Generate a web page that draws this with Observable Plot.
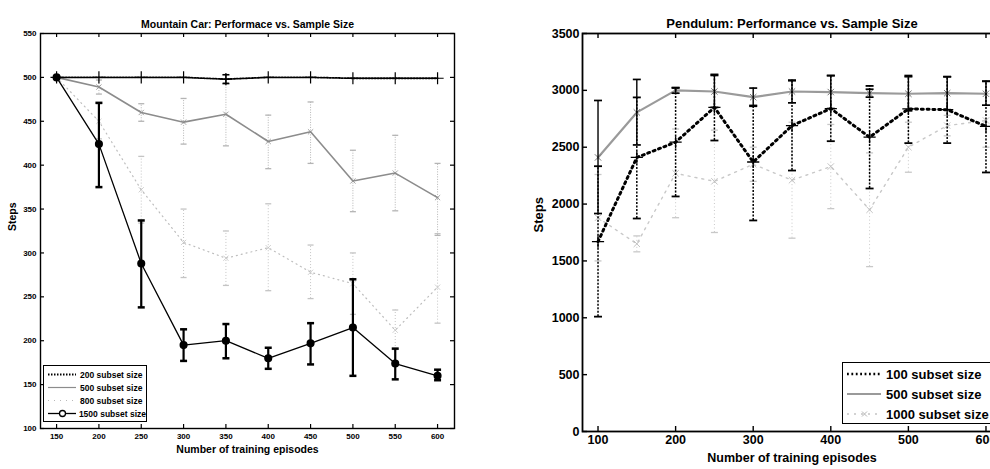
<!DOCTYPE html>
<html><head><meta charset="utf-8">
<script src="https://cdn.jsdelivr.net/npm/d3@7"></script>
<script src="https://cdn.jsdelivr.net/npm/@observablehq/plot@0.6"></script>
<style>
html,body{margin:0;padding:0;background:#fff;overflow:hidden}
#wrap{position:relative;width:990px;height:469px;overflow:hidden;background:#fff;font-family:"Liberation Sans",Arial,sans-serif}
.panel{position:absolute;top:0}
.panel svg{max-width:none !important}
.legend{position:absolute;background:#fff;border:1.3px solid #000;box-sizing:border-box;font-weight:bold;color:#000}
.legend .row{display:flex;align-items:center;white-space:nowrap}
.legend svg{display:block}
</style></head>
<body>
<div id="wrap">
  <div id="mc" class="panel" style="left:0;width:470px;height:469px"></div>
  <div id="pd" class="panel" style="left:500px;width:520px;height:469px"></div>
  <div id="mcLegend" class="legend" style="left:43px;top:365px;width:104px;height:57px;font-size:8.5px;padding:2px 0 0 3px"></div>
  <div id="pdLegend" class="legend" style="left:842px;top:362px;width:170px;height:62px;font-size:13px;padding:1px 0 0 3px"></div>
</div>
<script>
// ---------- Mountain Car data ----------
const mcTitle = "Mountain Car: Performace vs. Sample Size";
const mcXLabel = "Number of training episodes";
const mcYLabel = "Steps";
const mcEpisodes = [150, 200, 250, 300, 350, 400, 450, 500, 550, 600];
const mcXTicks = [150, 200, 250, 300, 350, 400, 450, 500, 550, 600];
const mcYTicks = [100, 150, 200, 250, 300, 350, 400, 450, 500, 550];
const mcSeriesNames = ["200 subset size", "500 subset size", "800 subset size", "1500 subset size"];
const mc200 = [500, 500, 500, 500, 498, 500, 500, 499, 499, 499];
const mc200Low = [null, null, null, null, 493, null, null, null, null, null];
const mc200High = [null, null, null, null, 503, null, null, null, null, null];
const mc500 = [500, 489, 460, 449, 458, 427, 438, 382, 391, 363];
const mc500Low = [null, 481, 450, 424, 422, 396, 402, 347, 348, 320];
const mc500High = [null, 497, 470, 476, 494, 457, 472, 417, 434, 402];
const mc800 = [500, 450, 372, 312, 294, 306, 278, 265, 212, 261];
const mc800Low = [null, 430, 334, 272, 263, 257, 248, 230, 190, 220];
const mc800High = [null, 470, 410, 350, 325, 356, 309, 300, 235, 322];
const mc1500 = [500, 424, 288, 195, 200, 180, 197, 215, 174, 160];
const mc1500Low = [null, 375, 238, 177, 180, 168, 173, 160, 156, 155];
const mc1500High = [null, 471, 337, 213, 219, 192, 220, 270, 191, 167];

// ---------- Pendulum data ----------
const pdTitle = "Pendulum: Performance vs. Sample Size";
const pdXLabel = "Number of training episodes";
const pdYLabel = "Steps";
const pdEpisodes = [100, 150, 200, 250, 300, 350, 400, 450, 500, 550, 600];
const pdXTicks = [100, 200, 300, 400, 500, 600];
const pdYTicks = [0, 500, 1000, 1500, 2000, 2500, 3000, 3500];
const pdSeriesNames = ["100 subset size", "500 subset size", "1000 subset size"];
const pd100 = [1670, 2410, 2544, 2850, 2370, 2690, 2840, 2588, 2837, 2830, 2683];
const pd100Low = [1010, 1873, 2067, 2559, 1856, 2295, 2553, 2137, 2536, 2536, 2278];
const pd100High = [2333, 2938, 3021, 3140, 2867, 3085, 3130, 3039, 3130, 3120, 3080];
const pd500 = [2410, 2806, 3000, 2990, 2940, 2990, 2985, 2975, 2970, 2975, 2970];
const pd500Low = [1917, 2520, 2975, 2850, 2860, 2890, 2840, 2940, 2820, 2830, 2870];
const pd500High = [2911, 3096, 3025, 3131, 3020, 3090, 3130, 3010, 3120, 3120, 3080];
const pd1000 = [1880, 1650, 2270, 2200, 2350, 2210, 2330, 1950, 2500, 2690, 2735];
const pd1000Low = [1500, 1580, 1880, 1750, 2200, 1700, 1960, 1450, 2280, 2600, 2500];
const pd1000High = [2260, 1720, 2660, 2650, 2500, 2720, 2700, 2450, 2720, 2780, 2970];

// ---------- helpers ----------
const plain = d => String(d);
function series(xs, ys, lo, hi) {
  return xs.map((x, i) => ({x, y: ys[i], lo: lo[i], hi: hi[i]}));
}
const capSymbol = {
  draw(ctx, size) {
    const w = Math.sqrt(size / Math.PI);
    ctx.moveTo(-w, 0); ctx.lineTo(w, 0);
  }
};
function errorBars(data, stroke, strokeWidth, dash, r) {
  const d = data.filter(p => p.lo != null && p.hi != null);
  return [
    Plot.ruleX(d, {x: "x", y1: "lo", y2: "hi", stroke, strokeWidth, strokeDasharray: dash}),
    Plot.dot(d, {x: "x", y: "lo", symbol: capSymbol, r, stroke, fill: "none", strokeWidth: strokeWidth + 0.3}),
    Plot.dot(d, {x: "x", y: "hi", symbol: capSymbol, r, stroke, fill: "none", strokeWidth: strokeWidth + 0.3})
  ];
}
function boxTicks(xTicks, yTicks, innerW, innerH, len, sw) {
  return [
    Plot.tickX(xTicks, {x: d => d, insetTop: innerH - len, stroke: "black", strokeWidth: sw}),
    Plot.tickX(xTicks, {x: d => d, insetBottom: innerH - len, stroke: "black", strokeWidth: sw}),
    Plot.tickY(yTicks, {y: d => d, insetRight: innerW - len, stroke: "black", strokeWidth: sw}),
    Plot.tickY(yTicks, {y: d => d, insetLeft: innerW - len, stroke: "black", strokeWidth: sw})
  ];
}

// ---------- Mountain Car chart ----------
{
  const W = 470, H = 469, mL = 40, mR = 16, mT = 33, mB = 41;
  const s200 = series(mcEpisodes, mc200, mc200Low, mc200High);
  const s500 = series(mcEpisodes, mc500, mc500Low, mc500High);
  const s800 = series(mcEpisodes, mc800, mc800Low, mc800High);
  const s1500 = series(mcEpisodes, mc1500, mc1500Low, mc1500High);
  const chart = Plot.plot({
    width: W, height: H, marginLeft: mL, marginRight: mR, marginTop: mT, marginBottom: mB,
    x: {domain: [131, 620], label: null},
    y: {domain: [100, 550], label: null},
    style: {fontFamily: "Liberation Sans, Arial, sans-serif", fontSize: "8px", fontWeight: "bold", background: "white", color: "black", overflow: "visible", maxWidth: "none"},
    marks: [
      ...errorBars(s800, "#c4c4c4", 1, "1,2", 3),
      Plot.line(s800, {x: "x", y: "y", stroke: "#bdbdbd", strokeWidth: 1.2, strokeDasharray: "1,4"}),
      Plot.dot(s800, {x: "x", y: "y", symbol: "times", r: 2.5, stroke: "#c4c4c4", strokeWidth: 0.8}),
      ...errorBars(s500, "#b4b4b4", 1, "1,1.5", 3),
      Plot.line(s500, {x: "x", y: "y", stroke: "#8c8c8c", strokeWidth: 1.6}),
      Plot.dot(s500, {x: "x", y: "y", symbol: "times", r: 2.5, stroke: "#8c8c8c", strokeWidth: 0.8}),
      ...errorBars(s200, "black", 1.3, null, 3.5),
      Plot.line(s200, {x: "x", y: "y", stroke: "black", strokeWidth: 1.8, strokeDasharray: "1.5,1.5"}),
      Plot.dot(s200, {x: "x", y: "y", symbol: "plus", r: 4, stroke: "black", strokeWidth: 1.2}),
      ...errorBars(s1500, "black", 2.2, null, 3.5),
      Plot.line(s1500, {x: "x", y: "y", stroke: "black", strokeWidth: 1.3}),
      Plot.dot(s1500, {x: "x", y: "y", r: 3.3, fill: "black", stroke: "black"}),
      ...boxTicks(mcXTicks, mcYTicks, W - mL - mR, H - mT - mB, 4, 1.2),
      Plot.frame({stroke: "black", strokeWidth: 1.4}),
      Plot.axisX({ticks: mcXTicks, tickSize: 0, tickPadding: 5, label: null, tickFormat: plain}),
      Plot.axisY({ticks: mcYTicks, tickSize: 0, tickPadding: 4, label: null, tickFormat: plain}),
      Plot.text([mcTitle], {frameAnchor: "top", dy: -13, fontSize: 10.5, fontWeight: "bold"}),
      Plot.text([mcXLabel], {frameAnchor: "bottom", dy: 24, fontSize: 10.5, fontWeight: "bold"}),
      Plot.text([mcYLabel], {frameAnchor: "left", dx: -28, rotate: -90, fontSize: 10.5, fontWeight: "bold"})
    ]
  });
  document.getElementById("mc").appendChild(chart);
}

// ---------- Pendulum chart ----------
{
  const W = 520, H = 469, mL = 82, mR = 19, mT = 33, mB = 38;
  const s100 = series(pdEpisodes, pd100, pd100Low, pd100High);
  const s500 = series(pdEpisodes, pd500, pd500Low, pd500High);
  const s1000 = series(pdEpisodes, pd1000, pd1000Low, pd1000High);
  const chart = Plot.plot({
    width: W, height: H, marginLeft: mL, marginRight: mR, marginTop: mT, marginBottom: mB,
    x: {domain: [80, 620], label: null},
    y: {domain: [0, 3500], label: null},
    style: {fontFamily: "Liberation Sans, Arial, sans-serif", fontSize: "12.5px", fontWeight: "bold", background: "white", color: "black", overflow: "visible", maxWidth: "none"},
    marks: [
      ...errorBars(s1000, "#c8c8c8", 1, "1,2.5", 3.5),
      Plot.line(s1000, {x: "x", y: "y", stroke: "#c8c8c8", strokeWidth: 1.4, strokeDasharray: "2,5"}),
      Plot.dot(s1000, {x: "x", y: "y", symbol: "times", r: 3, stroke: "#bcbcbc", strokeWidth: 0.9}),
      Plot.line(s500, {x: "x", y: "y", stroke: "#9a9a9a", strokeWidth: 2.2}),
      Plot.dot(s500, {x: "x", y: "y", symbol: "times", r: 3, stroke: "#777", strokeWidth: 1}),
      ...errorBars(s500, "black", 1.4, null, 4),
      ...errorBars(s100, "black", 1.5, "2,1.5", 4),
      Plot.line(s100, {x: "x", y: "y", stroke: "black", strokeWidth: 3, strokeDasharray: "2,3.8"}),
      Plot.dot(s100, {x: "x", y: "y", symbol: "plus", r: 4, stroke: "black", strokeWidth: 1.3}),
      ...boxTicks(pdXTicks, pdYTicks, W - mL - mR, H - mT - mB, 5, 1.4),
      Plot.frame({stroke: "black", strokeWidth: 1.8}),
      Plot.axisX({ticks: pdXTicks, tickSize: 0, tickPadding: 4, label: null, tickFormat: plain}),
      Plot.axisY({ticks: pdYTicks, tickSize: 0, tickPadding: 3, label: null, tickFormat: plain}),
      Plot.text([pdTitle], {frameAnchor: "top", dy: -15, fontSize: 13, fontWeight: "bold"}),
      Plot.text([pdXLabel], {frameAnchor: "bottom", dy: 30, fontSize: 12.5, fontWeight: "bold"}),
      Plot.text([pdYLabel], {frameAnchor: "left", dx: -44, rotate: -90, fontSize: 13, fontWeight: "bold"})
    ]
  });
  document.getElementById("pd").appendChild(chart);
}

// ---------- legends ----------
function sample(w, h, stroke, sw, dash, marker, mstroke) {
  const ns = "http://www.w3.org/2000/svg";
  const svg = document.createElementNS(ns, "svg");
  svg.setAttribute("width", w); svg.setAttribute("height", h);
  const line = document.createElementNS(ns, "line");
  line.setAttribute("x1", 1); line.setAttribute("x2", w - 2);
  line.setAttribute("y1", h / 2); line.setAttribute("y2", h / 2);
  line.setAttribute("stroke", stroke); line.setAttribute("stroke-width", sw);
  if (dash) line.setAttribute("stroke-dasharray", dash);
  svg.appendChild(line);
  if (marker) {
    const cx = w / 2, cy = h / 2;
    if (marker === "circle") {
      const c = document.createElementNS(ns, "circle");
      c.setAttribute("cx", cx); c.setAttribute("cy", cy); c.setAttribute("r", 3);
      c.setAttribute("fill", "white"); c.setAttribute("stroke", mstroke); c.setAttribute("stroke-width", 1.3);
      svg.appendChild(c);
    } else if (marker === "times") {
      const path = document.createElementNS(ns, "path");
      path.setAttribute("d", `M${cx-2.5},${cy-2.5}L${cx+2.5},${cy+2.5}M${cx-2.5},${cy+2.5}L${cx+2.5},${cy-2.5}`);
      path.setAttribute("stroke", mstroke); path.setAttribute("fill", "none");
      svg.appendChild(path);
    }
  }
  return svg;
}
function buildLegend(id, names, styles, rowH, sw, gap) {
  const el = document.getElementById(id);
  names.forEach((name, i) => {
    const row = document.createElement("div");
    row.className = "row"; row.style.height = rowH + "px";
    const s = styles[i];
    row.appendChild(sample(sw, rowH, s.stroke, s.width, s.dash, s.marker, s.mstroke));
    const t = document.createElement("span");
    t.textContent = name; t.style.marginLeft = gap + "px";
    row.appendChild(t);
    el.appendChild(row);
  });
}
buildLegend("mcLegend", mcSeriesNames, [
  {stroke: "black", width: 1.8, dash: "1.5,1.5"},
  {stroke: "#8c8c8c", width: 1.2},
  {stroke: "#b8b8b8", width: 1.2, dash: "1,5"},
  {stroke: "black", width: 1.3, marker: "circle", mstroke: "black"}
], 13, 31, 2);
buildLegend("pdLegend", pdSeriesNames, [
  {stroke: "black", width: 2.4, dash: "1.8,2.6"},
  {stroke: "#9a9a9a", width: 2},
  {stroke: "#c4c4c4", width: 1.4, dash: "2,5", marker: "times", mstroke: "#b4b4b4"}
], 20, 37, 3);
</script>
</body></html>
